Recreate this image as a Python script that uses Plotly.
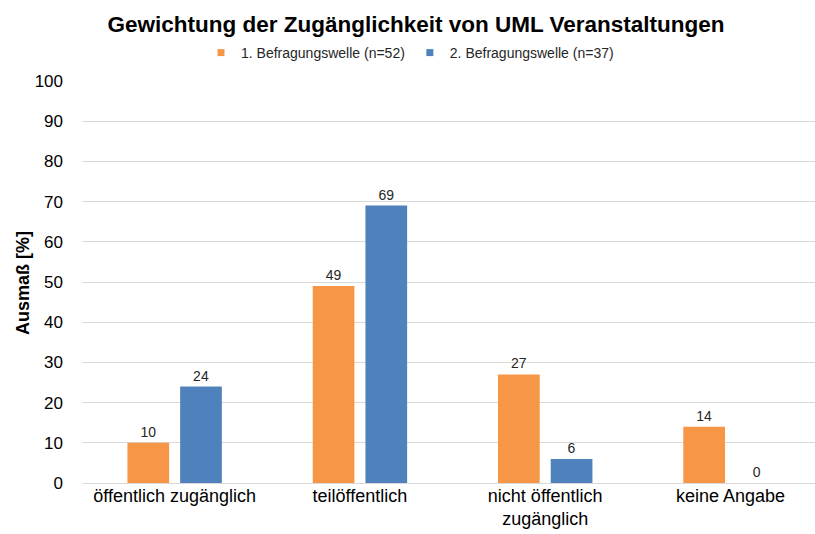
import plotly.graph_objects as go

categories = ["öffentlich zugänglich", "teilöffentlich", "nicht öffentlich<br>zugänglich", "keine Angabe"]
welle1 = [10, 49, 27, 14]
welle2 = [24, 69, 6, 0]
series_names = ["1. Befragungswelle (n=52)", "2. Befragungswelle (n=37)"]
colors = ["#F79646", "#4F81BD"]
y_ticks = list(range(0, 101, 10))

FONT = "Liberation Sans, Arial, sans-serif"
W, H = 815, 534
L, R, T, B = 82, 0, 81, 51

fig = go.Figure()
for name, vals, col in zip(series_names, [welle1, welle2], colors):
    fig.add_trace(go.Bar(
        x=categories, y=vals, name=name, showlegend=False,
        marker=dict(color=col, line=dict(width=0)),
        text=vals, textposition="outside", cliponaxis=False,
        textfont=dict(size=14, color="#262626", family=FONT),
    ))
for name, col in zip(series_names, colors):
    fig.add_trace(go.Scatter(
        x=[None], y=[None], mode="markers", name=name,
        marker=dict(symbol="square", size=7, color=col),
    ))

pw = W - L - R
ph = H - T - B

fig.update_layout(
    width=W, height=H,
    paper_bgcolor="white", plot_bgcolor="white",
    margin=dict(l=L, r=R, t=T, b=B, autoexpand=False),
    barmode="group", bargap=0.431, bargroupgap=0.209,
    font=dict(family=FONT, color="#000000"),
    title=dict(
        text="<b>Gewichtung der Zugänglichkeit von UML Veranstaltungen</b>",
        x=416 / W, xref="container", xanchor="center",
        y=1 - 24 / H, yref="container", yanchor="middle",
        font=dict(size=22.5, color="#000000", family=FONT),
    ),
    legend=dict(
        orientation="h", x=410 / W, xanchor="center",
        y=1 - 53 / H, yanchor="middle", xref="container", yref="container",
        font=dict(size=14, color="#262626", family=FONT),
        itemwidth=30, tracegroupgap=0,
    ),
    xaxis=dict(
        range=[-0.5, 3.456], showline=False, ticks="", automargin=False,
        tickfont=dict(size=18, color="#000000", family=FONT),
        showgrid=False,
    ),
    yaxis=dict(
        range=[0, 100], tickvals=y_ticks, showgrid=True, gridcolor="#D9D9D9", gridwidth=1,
        zeroline=True, zerolinecolor="#D9D9D9", zerolinewidth=1,
        showline=False, ticks="", automargin=False, ticklabelstandoff=18,
        tickfont=dict(size=17, color="#000000", family=FONT),
    ),
    annotations=[dict(
        text="<b>Ausmaß [%]</b>", textangle=-90,
        x=(23 - L) / pw, y=(H - B - 283) / ph, xref="paper", yref="paper",
        showarrow=False, xanchor="center", yanchor="middle",
        font=dict(size=18, color="#000000", family=FONT),
    )],
)

fig.write_html(
    "out.html",
    config={"displayModeBar": False},
    post_script="document.body.style.margin='0';document.body.style.overflow='hidden';",
)
